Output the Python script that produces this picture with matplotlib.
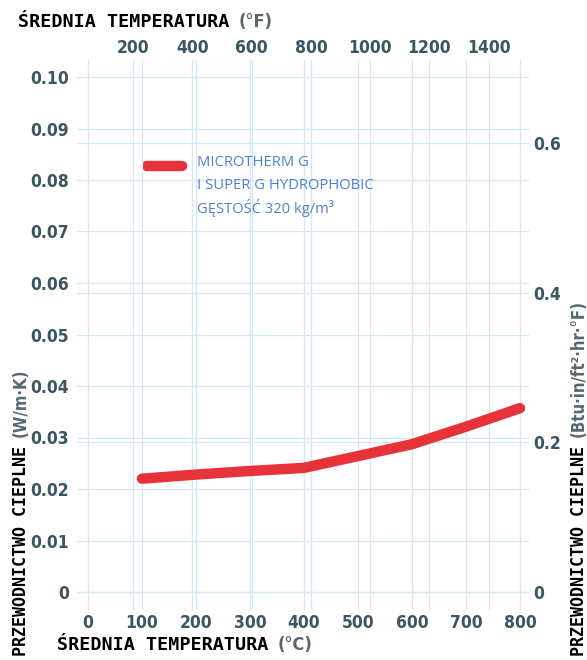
import matplotlib
matplotlib.use("Agg")
import matplotlib.pyplot as plt
from matplotlib import font_manager as fm
from matplotlib.lines import Line2D

# ---------------- data ----------------
temp_c = [100, 200, 300, 400, 500, 600, 700, 800]
conductivity = [0.0220, 0.0228, 0.0235, 0.0241, 0.0264, 0.0287, 0.0321, 0.0357]

c_ticks = [0, 100, 200, 300, 400, 500, 600, 700, 800]
k_ticks = [0, 0.01, 0.02, 0.03, 0.04, 0.05, 0.06, 0.07, 0.08, 0.09, 0.10]
k_labels = ["0", "0.01", "0.02", "0.03", "0.04", "0.05", "0.06", "0.07", "0.08", "0.09", "0.10"]
f_ticks = [200, 400, 600, 800, 1000, 1200, 1400]
btu_ticks = [0, 0.2, 0.4, 0.6]
btu_labels = ["0", "0.2", "0.4", "0.6"]
legend_lines = ["MICROTHERM G", "I SUPER G HYDROPHOBIC", "GĘSTOŚĆ 320 kg/m³"]

x_title = "ŚREDNIA TEMPERATURA"
top_unit = "(°F)"
bottom_unit = "(°C)"
y_title = "PRZEWODNICTWO CIEPLNE"
left_unit = "(W/m·K)"
right_unit = "(Btu·in/ft²·hr·°F)"

# ---------------- style ----------------
W, H = 587, 660
names = {f.name for f in fm.fontManager.ttflist}
if "Liberation Sans Narrow" in names:
    tick_font = dict(family="Liberation Sans Narrow", weight="bold")
else:
    tick_font = dict(family="DejaVu Sans", stretch="condensed", weight="bold")
tick_color = "#3b5663"
unit_color = "#56676e"
grid_color = "#d6e7f1"
red = "#e8323a"
blue = "#4f80d2"
mono = dict(family="DejaVu Sans Mono", weight="bold")

fig = plt.figure(figsize=(W / 100, H / 100), dpi=100)
fig.patch.set_facecolor("white")

def fx(px):
    return px / W

def fy(py):
    return 1 - py / H

left_px, right_px, top_px, bot_px = 77, 529, 60, 610
ax = fig.add_axes([fx(left_px), fy(bot_px), fx(right_px - left_px), (bot_px - top_px) / H])

# pixel -> data mapping
c0_px, c_scale = 88, 0.54          # px per degC
k0_px, k_scale = 592, 5150         # px per W/mK
f0_px, f_scale = 74, 0.2962        # px per degF
b0_px, b_scale = 592, 748          # px per Btu unit

ax.set_xlim((left_px - c0_px) / c_scale, (right_px - c0_px) / c_scale)
ax.set_ylim((k0_px - bot_px) / k_scale, (k0_px - top_px) / k_scale)

ax_top = ax.twiny()
ax_top.set_xlim((left_px - f0_px) / f_scale, (right_px - f0_px) / f_scale)
ax_right = ax.twinx()
ax_right.set_ylim((b0_px - bot_px) / b_scale, (b0_px - top_px) / b_scale)

for a in (ax, ax_top, ax_right):
    for s in a.spines.values():
        s.set_visible(False)

ax.set_xticks(c_ticks)
ax.set_xticklabels([str(t) for t in c_ticks])
ax.set_yticks(k_ticks)
ax.set_yticklabels(k_labels)
ax_top.set_xticks(f_ticks)
ax_top.set_xticklabels([str(t) for t in f_ticks])
ax_right.set_yticks(btu_ticks)
ax_right.set_yticklabels(btu_labels)

ax.tick_params(axis="x", length=0, pad=3, colors=tick_color)
ax.tick_params(axis="y", length=0, pad=6, colors=tick_color)
ax_top.tick_params(axis="x", length=0, pad=2, colors=tick_color)
ax_right.tick_params(axis="y", length=0, pad=3, colors=tick_color)
for a in (ax, ax_top, ax_right):
    for lab in a.get_xticklabels() + a.get_yticklabels():
        lab.set_fontproperties(fm.FontProperties(size=12.5, **tick_font))

ax.grid(True, color=grid_color, linewidth=0.9)
ax_top.grid(True, axis="x", color=grid_color, linewidth=0.9)
ax_right.grid(True, axis="y", color=grid_color, linewidth=0.9)

ax.set_zorder(3)
ax.patch.set_visible(False)
ax_top.set_zorder(1)
ax_right.set_zorder(2)

ax.plot(temp_c, conductivity, color=red, linewidth=7.5, solid_capstyle="round",
        solid_joinstyle="round", zorder=5)

# legend
fig.add_artist(Line2D([fx(147), fx(182)], [fy(166), fy(166)], color=red, linewidth=7.5,
                      solid_capstyle="round", transform=fig.transFigure))
for i, t in enumerate(legend_lines):
    fig.text(fx(197), fy(163 + 22.5 * i), t, color=blue, family="Open Sans",
             fontsize=10.6, ha="left", va="center")

# axis titles (two-part)
fig.canvas.draw()
renderer = fig.canvas.get_renderer()

def title_h(x, y, unit):
    t = fig.text(fx(x), fy(y), x_title, ha="left", va="center", color="black",
                 fontsize=13.2, **mono)
    bb = t.get_window_extent(renderer)
    fig.text((bb.x1 + 9) / W, fy(y), unit, ha="left", va="center",
             color=unit_color, fontsize=13, **tick_font)

def title_v(x, y, unit):
    t = fig.text(fx(x), fy(y), y_title, ha="left", va="center", rotation=90,
                 rotation_mode="anchor", color="black", fontsize=12, **mono)
    bb = t.get_window_extent(renderer)
    fig.text(fx(x), (bb.y1 + 9) / H, unit, ha="left", va="center", rotation=90,
             rotation_mode="anchor", color=unit_color, fontsize=12, **tick_font)

title_h(18, 22, top_unit)
title_h(57, 645, bottom_unit)
title_v(21, 656, left_unit)
title_v(579, 656, right_unit)

fig.savefig("out.png", dpi=100, facecolor="white")
